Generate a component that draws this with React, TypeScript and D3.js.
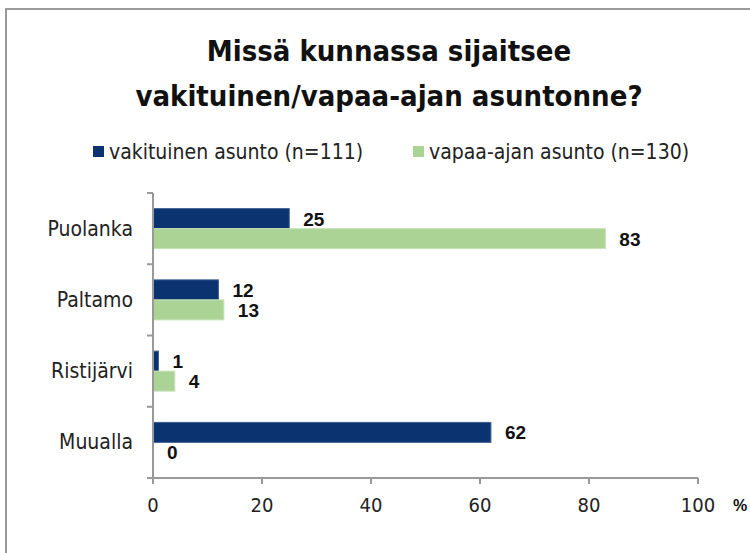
import React from 'react';
import * as d3 from 'd3';

const categories = ['Puolanka', 'Paltamo', 'Ristijärvi', 'Muualla'];
const seriesNames = ['vakituinen asunto (n=111)', 'vapaa-ajan asunto (n=130)'];
const vakituinen = [25, 12, 1, 62];
const vapaaAjan = [83, 13, 4, 0];
const xTicks = [0, 20, 40, 60, 80, 100];
const colours = ['#0a3370', '#acd396'];

const width = 750;
const height = 553;
const marginLeft = 153;
const marginRight = 52;
const marginTop = 193;
const marginBottom = 75;

const font = "'DejaVu Sans Condensed', 'DejaVu Sans', sans-serif";
const boldFont = "'Liberation Sans', Arial, sans-serif";

export default function App() {
  const x = d3.scaleLinear().domain([0, 100]).range([marginLeft, width - marginRight]);
  const y = d3.scaleBand()
    .domain(categories)
    .range([marginTop, height - marginBottom]);
  const ySub = d3.scaleBand()
    .domain(['0', '1'])
    .range([0, 40]);

  const series = [vakituinen, vapaaAjan];
  const yBottom = height - marginBottom;

  return (
    <svg width={width} height={height} style={{ position: 'absolute', left: 0, top: 0, background: 'white' }}
      fontFamily={font}>
      <rect x={6} y={9} width={760} height={560} fill="none" stroke="#9a9a9a" strokeWidth={2} />

      <text x={389} y={61} textAnchor="middle" fontSize={29} fontWeight="bold" fill="#111">
        Missä kunnassa sijaitsee
      </text>
      <text x={389} y={106} textAnchor="middle" fontSize={29} fontWeight="bold" fill="#111">
        vakituinen/vapaa-ajan asuntonne?
      </text>

      {/* legend */}
      {seriesNames.map((name, i) => (
        <g key={name} transform={`translate(${i === 0 ? 93 : 413},146)`}>
          <rect width={11} height={11} fill={colours[i]} />
          <text x={16} y={13} fontSize={21} fill="#222">{name}</text>
        </g>
      ))}

      {/* bars */}
      {series.map((vals, si) => (
        <g key={si}>
          {categories.map((c, ci) => {
            const by = (y(c) ?? 0) + (y.bandwidth() - 40) / 2 + (ySub(String(si)) ?? 0);
            return (
              <g key={c}>
                <rect x={x(0)} y={by} width={x(vals[ci]) - x(0)} height={ySub.bandwidth()}
                  fill={colours[si]} stroke={si === 0 ? '#3d5f93' : '#c6e2b6'} strokeWidth={1} />
                <text x={x(vals[ci]) + 14} y={by + ySub.bandwidth() / 2 + 7} fontSize={19}
                  fontWeight="bold" fill="#111" fontFamily={boldFont}>{vals[ci]}</text>
              </g>
            );
          })}
        </g>
      ))}

      {/* y axis */}
      <line x1={marginLeft} x2={marginLeft} y1={marginTop} y2={yBottom} stroke="#999" strokeWidth={2} />
      {categories.map(c => (
        <line key={c} x1={marginLeft - 6} x2={marginLeft} y1={y(c)} y2={y(c)} stroke="#999" strokeWidth={2} />
      ))}
      {categories.map(c => (
        <text key={c} x={133} y={(y(c) ?? 0) + y.bandwidth() / 2 + 7} textAnchor="end" fontSize={21} fill="#222">{c}</text>
      ))}

      {/* x axis */}
      <line x1={marginLeft - 6} x2={x(100)} y1={yBottom} y2={yBottom} stroke="#999" strokeWidth={2} />
      {xTicks.map(t => (
        <g key={t}>
          <line x1={x(t)} x2={x(t)} y1={yBottom} y2={yBottom + 6} stroke="#999" strokeWidth={2} />
          <text x={x(t)} y={512} textAnchor="middle" fontSize={20} fill="#222">{t}</text>
        </g>
      ))}
      <text x={733} y={511} fontSize={16} fontWeight="bold" fill="#111" fontFamily={boldFont}>%</text>
    </svg>
  );
}
